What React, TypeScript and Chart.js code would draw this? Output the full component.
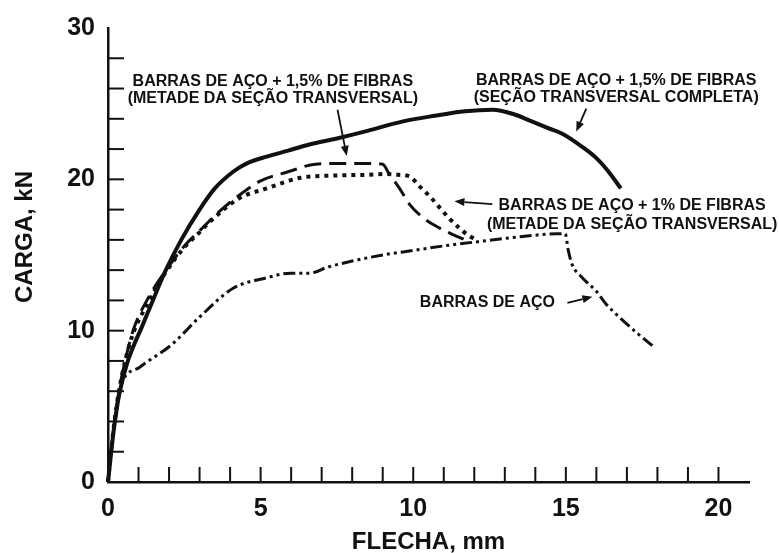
import { useEffect, useRef } from 'react';
import { Chart, registerables } from 'chart.js';

Chart.register(...registerables);

// ---- Data (FLECHA, mm  vs  CARGA, kN) ----
const flechaCompleta = [0, 0.1, 0.2, 0.36, 0.62, 0.82, 1.1, 1.47, 1.87, 2.4, 3.0, 3.5, 4.1, 4.6, 5.2, 5.9, 6.6, 7.5, 8.5, 9.6, 10.7, 11.7, 12.6, 13.3, 13.8, 14.4, 14.9, 15.5, 16.0, 16.4, 16.8];
const cargaCompleta = [0, 1.9, 3.6, 5.7, 7.8, 8.9, 10.2, 12.0, 13.9, 16.0, 18.0, 19.4, 20.5, 21.1, 21.5, 21.9, 22.3, 22.7, 23.2, 23.8, 24.2, 24.5, 24.6, 24.3, 23.9, 23.4, 23.0, 22.2, 21.4, 20.5, 19.4];

const flechaMetade15 = [0, 0.1, 0.2, 0.35, 0.55, 0.82, 1.3, 1.87, 2.5, 3.0, 3.66, 4.4, 5.0, 5.9, 6.8, 7.8, 8.5, 9.0, 9.2, 9.55, 9.9, 10.3, 10.8, 11.2, 11.7];
const cargaMetade15 = [0, 2.0, 3.8, 5.9, 7.9, 10.0, 12.1, 13.9, 15.6, 16.6, 17.9, 19.1, 19.9, 20.5, 21.0, 21.05, 21.05, 21.0, 20.4, 19.4, 18.3, 17.5, 16.85, 16.45, 16.0];

const flechaMetade1 = [0, 0.1, 0.2, 0.35, 0.55, 0.82, 1.3, 1.87, 2.5, 3.0, 3.34, 4.3, 5.2, 6.3, 7.4, 8.5, 9.1, 9.5, 9.88, 10.2, 10.53, 10.86, 11.19, 11.5, 11.84, 12.1];
const cargaMetade1 = [0, 2.0, 3.8, 5.9, 7.9, 9.8, 11.8, 13.8, 15.5, 16.5, 17.2, 18.75, 19.4, 20.1, 20.25, 20.3, 20.35, 20.3, 20.2, 19.55, 18.9, 18.15, 17.4, 16.8, 16.25, 16.0];

const flechaAco = [0, 0.1, 0.2, 0.35, 0.45, 1.05, 2.1, 3.0, 4.1, 5.2, 6.0, 6.6, 7.2, 8.0, 9.0, 10.0, 11.0, 12.2, 13.5, 14.7, 14.98, 15.08, 15.2, 15.54, 16.0, 16.3, 16.75, 17.3, 17.9];
const cargaAco = [0, 1.9, 3.6, 5.6, 6.5, 7.6, 9.1, 10.9, 12.8, 13.5, 13.8, 13.8, 14.2, 14.6, 15.0, 15.3, 15.6, 15.9, 16.2, 16.4, 16.4, 15.3, 14.4, 13.5, 12.6, 11.8, 10.9, 9.9, 8.9];

const xTickLabels = [0, 5, 10, 15, 20];
const yTickLabels = [0, 10, 20, 30];

const tituloX = 'FLECHA, mm';
const tituloY = 'CARGA, kN';

// annotation texts (lines)
const rotuloMetade15 = ['BARRAS DE AÇO + 1,5% DE FIBRAS', '(METADE DA SEÇÃO TRANSVERSAL)'];
const rotuloCompleta = ['BARRAS DE AÇO + 1,5% DE FIBRAS', '(SEÇÃO TRANSVERSAL COMPLETA)'];
const rotuloMetade1 = ['BARRAS DE AÇO + 1% DE FIBRAS', '(METADE DA SEÇÃO TRANSVERSAL)'];
const rotuloAco = ['BARRAS DE AÇO'];

const toPts = (xs: number[], ys: number[]) => xs.map((x, i) => ({ x, y: ys[i] }));

const INK = '#111111';
const FONT = '"Liberation Sans", Arial, Helvetica, sans-serif';

export default function App() {
  const ref = useRef<HTMLCanvasElement | null>(null);

  useEffect(() => {
    const canvas = ref.current;
    if (!canvas) return;

    const annotations = [
      { lines: rotuloMetade15, tx: 5.4, ty: [26.45, 25.33], arrow: [7.52, 24.6, 7.82, 21.55] },
      { lines: rotuloCompleta, tx: 16.65, ty: [26.5, 25.4], arrow: [15.67, 24.67, 15.34, 23.16] },
      { lines: rotuloMetade1, tx: 17.17, ty: [18.29, 17.04], arrow: [12.59, 18.36, 11.35, 18.55] },
      { lines: rotuloAco, tx: 12.43, ty: [11.84], arrow: [15.05, 11.84, 15.87, 12.24] },
    ];

    const decor = {
      id: 'decor',
      afterDraw(chart: any) {
        const { ctx, chartArea, scales } = chart;
        const xs = scales.x;
        const ys = scales.y;
        ctx.save();
        // inward tick marks
        ctx.strokeStyle = INK;
        ctx.lineWidth = 2;
        ctx.lineCap = 'butt';
        for (let v = 1; v <= 20; v++) {
          const px = xs.getPixelForValue(v);
          ctx.beginPath();
          ctx.moveTo(px, chartArea.bottom);
          ctx.lineTo(px, chartArea.bottom - 15);
          ctx.stroke();
        }
        for (let v = 2; v <= 28; v += 2) {
          const py = ys.getPixelForValue(v);
          ctx.beginPath();
          ctx.moveTo(chartArea.left, py);
          ctx.lineTo(chartArea.left + 16, py);
          ctx.stroke();
        }
        // axis titles
        ctx.fillStyle = INK;
        ctx.font = `bold 24px ${FONT}`;
        ctx.textAlign = 'center';
        ctx.textBaseline = 'middle';
        ctx.fillText(tituloX, xs.getPixelForValue(10.5), 542);
        ctx.save();
        ctx.translate(25, 237);
        ctx.rotate(-Math.PI / 2);
        ctx.fillText(tituloY, 0, 0);
        ctx.restore();
        // annotations
        ctx.font = `bold 16px ${FONT}`;
        for (const a of annotations) {
          a.lines.forEach((t, i) => {
            ctx.fillText(t, xs.getPixelForValue(a.tx), ys.getPixelForValue(a.ty[i]));
          });
          const x1 = xs.getPixelForValue(a.arrow[0]);
          const y1 = ys.getPixelForValue(a.arrow[1]);
          const x2 = xs.getPixelForValue(a.arrow[2]);
          const y2 = ys.getPixelForValue(a.arrow[3]);
          const ang = Math.atan2(y2 - y1, x2 - x1);
          const hl = 10;
          const hw = 4;
          const bx = x2 - hl * Math.cos(ang);
          const by = y2 - hl * Math.sin(ang);
          ctx.lineWidth = 1.8;
          ctx.beginPath();
          ctx.moveTo(x1, y1);
          ctx.lineTo(bx, by);
          ctx.stroke();
          ctx.beginPath();
          ctx.moveTo(x2, y2);
          ctx.lineTo(bx + hw * Math.sin(ang), by - hw * Math.cos(ang));
          ctx.lineTo(bx - hw * Math.sin(ang), by + hw * Math.cos(ang));
          ctx.closePath();
          ctx.fill();
        }
        ctx.restore();
      },
    };

    const common = {
      showLine: true,
      pointRadius: 0,
      pointHoverRadius: 0,
      fill: false,
      borderColor: INK,
      backgroundColor: INK,
      cubicInterpolationMode: 'monotone' as const,
      clip: 10,
    };

    const chart = new Chart(canvas, {
      type: 'scatter',
      data: {
        datasets: [
          { ...common, label: 'Aço', data: toPts(flechaAco, cargaAco), borderWidth: 3, borderDash: [12, 4, 3, 4, 3, 4] },
          { ...common, label: '1% metade', data: toPts(flechaMetade1, cargaMetade1), borderWidth: 4, borderDash: [4, 5] },
          { ...common, label: '1,5% metade', data: toPts(flechaMetade15, cargaMetade15), borderWidth: 3, borderDash: [17, 8] },
          { ...common, label: '1,5% completa', data: toPts(flechaCompleta, cargaCompleta), borderWidth: 4 },
        ],
      },
      options: {
        responsive: false,
        animation: false,
        events: [],
        layout: { padding: { top: 26, right: 30, left: 0, bottom: 0 } },
        plugins: { legend: { display: false }, tooltip: { enabled: false } },
        scales: {
          x: {
            type: 'linear',
            min: 0,
            max: 21,
            afterFit(scale: any) { scale.height = 71; },
            grid: { display: false, drawTicks: false },
            border: { display: true, color: INK, width: 2.5 },
            ticks: {
              stepSize: 1,
              autoSkip: false,
              maxRotation: 0,
              padding: 12,
              color: INK,
              font: { family: FONT, size: 25, weight: 'bold' },
              callback: (v: any) => (xTickLabels.includes(Number(v)) ? String(v) : ''),
            },
          },
          y: {
            type: 'linear',
            min: 0,
            max: 30,
            afterFit(scale: any) { scale.width = 108; },
            grid: { display: false, drawTicks: false },
            border: { display: true, color: INK, width: 2.5 },
            ticks: {
              stepSize: 2,
              autoSkip: false,
              padding: 13,
              color: INK,
              font: { family: FONT, size: 25, weight: 'bold' },
              callback: (v: any) => (yTickLabels.includes(Number(v)) ? String(v) : ''),
            },
          },
        },
      },
      plugins: [decor],
    });

    return () => chart.destroy();
  }, []);

  return (
    <div style={{ position: 'fixed', left: 0, top: 0, width: 779, height: 553, background: '#fff' }}>
      <canvas ref={ref} width={779} height={553} style={{ display: 'block', width: 779, height: 553 }} />
    </div>
  );
}
